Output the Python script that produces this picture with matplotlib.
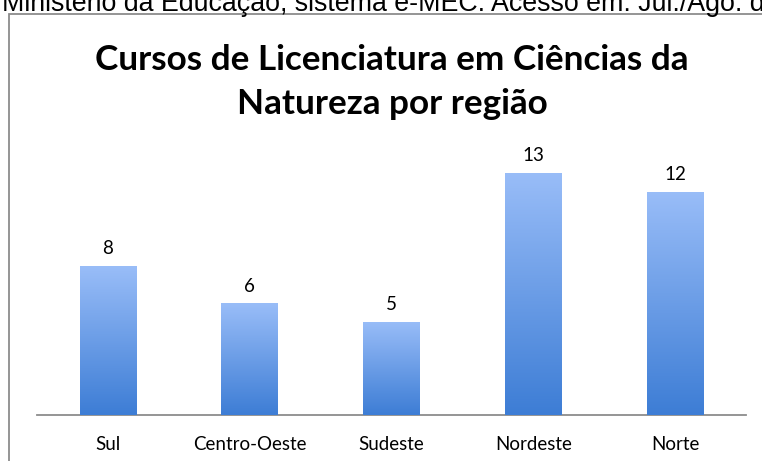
import matplotlib.pyplot as plt
import numpy as np
from matplotlib.colors import LinearSegmentedColormap

regions = ["Sul", "Centro-Oeste", "Sudeste", "Nordeste", "Norte"]
courses = [8, 6, 5, 13, 12]
title_lines = ["Cursos de Licenciatura em Ciências da", "Natureza por região"]
source = "Ministério da Educação, sistema e-MEC. Acesso em: Jul./Ago. de 2014"

plt.rcParams['font.family'] = ['Lato', 'DejaVu Sans']

fig = plt.figure(figsize=(7.62, 4.61), dpi=100)
W, H = 762, 461

# caption text, cut off at the top of the image like in the original
fig.text(2 / W, 1 - 11 / H, source, fontsize=19.3, family='Liberation Sans',
         ha='left', va='baseline', color='black')

# chart frame (continues past the right/bottom edge)
frame = plt.Rectangle((9 / W, -0.1), 1.2, 1 - 14.5 / H + 0.1, transform=fig.transFigure,
                      fill=False, edgecolor='#8c8c8c', linewidth=1.3)
fig.add_artist(frame)

fig.text(392 / W, 1 - 70 / H, title_lines[0], fontsize=25.3,
         fontweight='bold', ha='center', va='baseline')
fig.text(392 / W, 1 - 114 / H, title_lines[1], fontsize=25.3,
         fontweight='bold', ha='center', va='baseline')

unit = 18.625
ax = fig.add_axes([37 / W, 46 / H, 709 / W, 14 * unit / H])
ax.set_xlim(-0.5, len(regions) - 0.5)
ax.set_ylim(0, 14)

x = np.arange(len(regions))
bars = ax.bar(x, courses, width=0.4, color='#6a9de6', zorder=2)

# vertical gradient on each bar
cmap = LinearSegmentedColormap.from_list('bar', ['#3d7dd5', '#99bdf8'])
grad = np.linspace(0, 1, 256).reshape(-1, 1)
for b in bars:
    bx, by = b.get_x(), b.get_y()
    bw, bh = b.get_width(), b.get_height()
    im = ax.imshow(grad, cmap=cmap, origin='lower', aspect='auto',
                   extent=[bx, bx + bw, by, by + bh], zorder=3)
    im.set_clip_path(b)

for xi, v in zip(x, courses):
    ax.text(xi, v + 0.92, str(v), ha='center', va='center', fontsize=13.5)

for s in ['top', 'right', 'left']:
    ax.spines[s].set_visible(False)
ax.spines['bottom'].set_color('#8c8c8c')
ax.spines['bottom'].set_linewidth(1.3)
ax.set_yticks([])
ax.set_xticks(x)
ax.set_xticklabels(regions, fontsize=13.5)
ax.tick_params(axis='x', length=0, pad=15)

plt.savefig('out.png', dpi=100)
